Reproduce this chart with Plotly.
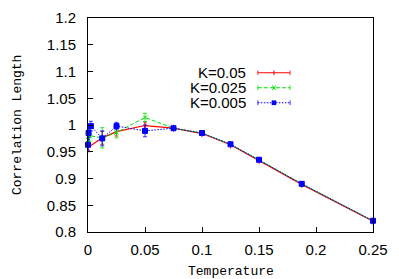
import plotly.graph_objects as go

# Data
temp_red = [0.0, 0.0125, 0.025, 0.05, 0.075, 0.1, 0.125, 0.15, 0.1875, 0.25]
len_red = [0.958, 0.976, 0.9875, 0.999, 0.994, 0.984, 0.963, 0.934, 0.889, 0.820]
err_red = [0.008, 0.012, 0.008, 0.007, 0.002, 0.002, 0.002, 0.002, 0.002, 0.002]

temp_green = [0.0, 0.0015, 0.0125, 0.025, 0.05, 0.075, 0.1, 0.125, 0.15, 0.1875, 0.25]
len_green = [0.972, 0.980, 0.976, 0.986, 1.014, 0.994, 0.985, 0.964, 0.935, 0.890, 0.821]
err_green = [0.012, 0.010, 0.019, 0.010, 0.008, 0.002, 0.002, 0.002, 0.002, 0.002, 0.002]

temp_blue = [0.0, 0.0005, 0.0025, 0.0125, 0.025, 0.05, 0.075, 0.1, 0.125, 0.15, 0.1875, 0.25]
len_blue = [0.963, 0.985, 0.998, 0.975, 0.998, 0.989, 0.994, 0.985, 0.964, 0.935, 0.890, 0.821]
err_blue = [0.010, 0.008, 0.009, 0.014, 0.007, 0.011, 0.002, 0.002, 0.002, 0.002, 0.002, 0.002]

labels = ["K=0.05", "K=0.025", "K=0.005"]
x_ticks = [0, 0.05, 0.1, 0.15, 0.2, 0.25]
x_ticktext = ["0", "0.05", "0.1", "0.15", "0.2", "0.25"]
y_ticks = [0.8, 0.85, 0.9, 0.95, 1.0, 1.05, 1.1, 1.15, 1.2]
y_ticktext = ["0.8", "0.85", "0.9", "0.95", "1", "1.05", "1.1", "1.15", "1.2"]

RED, GREEN, BLUE = "#ff0000", "#00e000", "#0000ff"
GREEN_DASH = "4px,2px"
BLUE_DASH = "1.5px,1.5px"

fig = go.Figure()
series = [
    (temp_red, len_red, err_red, RED, "solid", "line-ns", 1.2, 5),
    (temp_green, len_green, err_green, GREEN, GREEN_DASH, "x-thin", 1.0, 4),
    (temp_blue, len_blue, err_blue, BLUE, BLUE_DASH, "square", 1.0, 5),
]
for (x, y, e, c, dash, sym, lw, ms), name in zip(series, labels):
    fig.add_trace(go.Scatter(
        x=x, y=y, name=name, mode="lines+markers",
        line=dict(color=c, width=lw, dash=dash),
        marker=dict(color=c, symbol=sym, size=ms, line=dict(color=c, width=1)),
        error_y=dict(type="data", array=e, visible=True, color=c, thickness=0.8, width=2),
        showlegend=False, cliponaxis=False,
    ))

# Custom gnuplot-style key: text then sample to its right
key_y = [0.744, 0.674, 0.604]
key_dash = ["solid", GREEN_DASH, BLUE_DASH]
key_col = [RED, GREEN, BLUE]
x0k, x1k, xm = 0.596, 0.709, 0.6525
dy = 0.011
for yy, name, c, d in zip(key_y, labels, key_col, key_dash):
    fig.add_annotation(x=0.563, y=yy, xref="paper", yref="paper", text=name,
                       showarrow=False, xanchor="right", yanchor="middle",
                       font=dict(family="Liberation Sans, Arial", size=15, color="#000"))
    fig.add_shape(type="line", xref="paper", yref="paper",
                  x0=x0k, x1=x1k, y0=yy, y1=yy,
                  line=dict(color=c, width=1.1, dash=d))
    for xe in (x0k, x1k):
        fig.add_shape(type="line", xref="paper", yref="paper",
                      x0=xe, x1=xe, y0=yy - dy, y1=yy + dy,
                      line=dict(color=c, width=0.8))
fig.add_shape(type="line", xref="paper", yref="paper", x0=xm, x1=xm,
              y0=key_y[0] - dy, y1=key_y[0] + dy, line=dict(color=RED, width=1))
fig.add_shape(type="line", xref="paper", yref="paper", x0=xm - 0.006, x1=xm + 0.006,
              y0=key_y[1] - dy, y1=key_y[1] + dy, line=dict(color=GREEN, width=1))
fig.add_shape(type="line", xref="paper", yref="paper", x0=xm - 0.006, x1=xm + 0.006,
              y0=key_y[1] + dy, y1=key_y[1] - dy, line=dict(color=GREEN, width=1))
fig.add_shape(type="rect", xref="paper", yref="paper", x0=xm - 0.008, x1=xm + 0.008,
              y0=key_y[2] - dy, y1=key_y[2] + dy, line=dict(width=0), fillcolor=BLUE)

# Axis titles
mono = dict(family="Liberation Mono, Courier New", size=13, color="#000")
fig.add_annotation(x=0.5, y=-0.186, xref="paper", yref="paper", text="Temperature",
                   showarrow=False, xanchor="center", yanchor="middle", font=mono)
fig.add_annotation(x=-0.249, y=0.5, xref="paper", yref="paper", text="Correlation Length",
                   showarrow=False, xanchor="center", yanchor="middle", textangle=-90, font=mono)

# The page body adds an 8px margin, so the figure is 8px smaller on each side
fig.update_layout(
    width=391, height=271,
    margin=dict(l=80, r=26, t=10, b=47, autoexpand=False),
    paper_bgcolor="white", plot_bgcolor="white",
    font=dict(family="Liberation Sans, Arial", size=15, color="#000"),
    xaxis=dict(range=[0, 0.25], tickvals=x_ticks, ticktext=x_ticktext, automargin=False,
               showgrid=False, zeroline=False, showline=True, linecolor="#000",
               linewidth=1, mirror=True, ticks="inside", ticklen=5, tickcolor="#000",
               ticklabelstandoff=4),
    yaxis=dict(range=[0.8, 1.2], tickvals=y_ticks, ticktext=y_ticktext, automargin=False,
               showgrid=False, zeroline=False, showline=True, linecolor="#000",
               linewidth=1, mirror=True, ticks="inside", ticklen=5, tickcolor="#000",
               ticklabelstandoff=8),
)

fig.write_html("out.html")
